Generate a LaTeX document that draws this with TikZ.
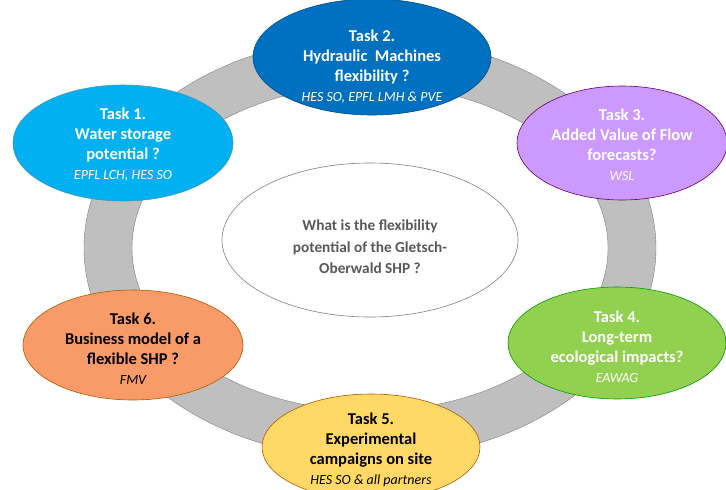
\documentclass[tikz,border=0pt]{standalone}
\usepackage{fontspec}
\setmainfont{Carlito}
\usepackage{xcolor}
\usepackage{tikz}
\usetikzlibrary{shapes.geometric}

\definecolor{ringgray}{HTML}{BFBFBF}
\definecolor{ringline}{HTML}{808080}
\definecolor{textgray}{HTML}{595959}
\definecolor{waterblue}{HTML}{00B0F0}
\definecolor{machblue}{HTML}{0070C0}
\definecolor{flowviolet}{HTML}{CC99FF}
\definecolor{ecogreen}{HTML}{92D050}
\definecolor{siteyellow}{HTML}{FFD966}
\definecolor{bizorange}{HTML}{F89B68}

\newcommand{\partners}[1]{{\fontsize{14}{17}\selectfont\mdseries\itshape #1}}

\begin{document}
\begin{tikzpicture}[x=1pt, y=-1pt,
    task/.style = {ellipse, draw, semithick, inner sep=0pt},
     txt/.style = {align=center, inner sep=0pt,
                   font=\fontsize{16.5}{20}\selectfont\bfseries},
   white/.style = {text=white}
                   ]
\useasboundingbox (0,0) rectangle (726,490);
\fill[ringgray, draw=ringline, even odd rule]
    (370,248) ellipse [x radius=286, y radius=211]
    (370,248) ellipse [x radius=238, y radius=163];
% centre question
\node[task, draw=ringline, fill=white, minimum width=296, minimum height=154]
     (question) at (370,240) {};
\node[txt, text=textgray, font=\fontsize{15.3}{21.5}\selectfont\bfseries]
     (questiontxt) at ([yshift=-7pt]question.center)
     {What is the flexibility\\potential of the Gletsch-\\Oberwald SHP ?};
% tasks
\node[task, fill=machblue, draw=machblue!70!black, minimum width=238, minimum height=116]
     (task2) at (372,57) {};
\node[txt, white] (task2txt) at ([yshift=-10pt]task2.center)
     {Task 2.\\Hydraulic\ \ Machines\\flexibility ?\\\partners{HES SO, EPFL LMH \& PVE}};
\node[task, fill=waterblue, draw=waterblue!50!gray, minimum width=220, minimum height=116]
     (task1) at (123,143) {};
\node[txt, white] (task1txt) at ([yshift=-2pt]task1.center)
     {Task 1.\\Water storage\\potential ?\\\partners{EPFL LCH, HES SO}};
\node[task, fill=flowviolet, draw=violet!80!black, minimum width=210, minimum height=114]
     (task3) at (622,143) {};
\node[txt, white] (task3txt) at ([yshift=-2pt]task3.center)
     {Task 3.\\Added Value of Flow\\forecasts?\\\partners{WSL}};
\node[task, fill=ecogreen, draw=green!60!black, minimum width=218, minimum height=112]
     (task4) at (617,343) {};
\node[txt, white] (task4txt) at ([yshift=-4pt]task4.center)
     {Task 4.\\Long-term\\ecological impacts?\\\partners{EAWAG}};
\node[task, fill=siteyellow, draw=orange!70!black, minimum width=218, minimum height=106]
     (task5) at (371,447) {};
\node[txt] (task5txt) at ([yshift=-3pt]task5.center)
     {Task 5.\\Experimental\\campaigns on site\\\partners{HES SO \& all partners}};
\node[task, fill=bizorange, draw=orange!70!black, minimum width=220, minimum height=110]
     (task6) at (133,345) {};
\node[txt] (task6txt) at ([yshift=-4pt]task6.center)
     {Task 6.\\Business model of a\\flexible SHP ?\\\partners{FMV}};
\end{tikzpicture}
\end{document}
